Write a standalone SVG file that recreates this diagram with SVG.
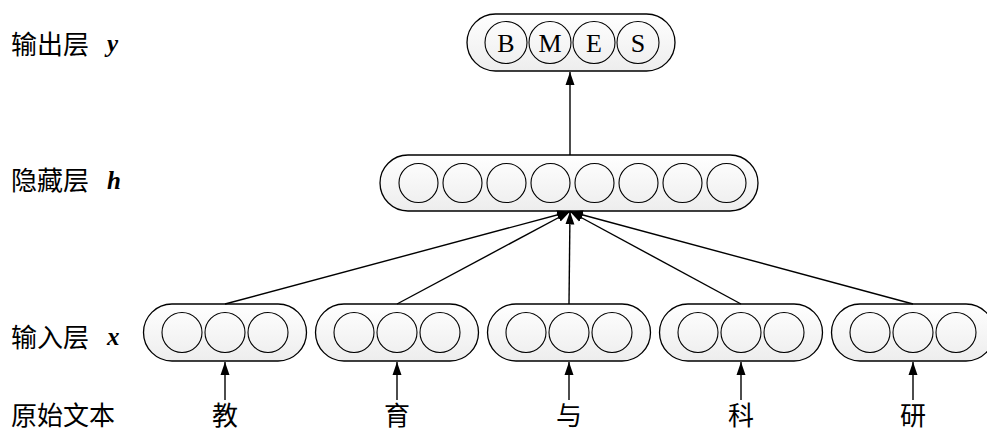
<svg xmlns="http://www.w3.org/2000/svg" width="987" height="433" viewBox="0 0 987 433">
<style>
.pill{fill:url(#g);stroke:#000;stroke-width:1.3}
.c{fill:none;stroke:#000;stroke-width:1.1}
.lbl{font-family:"Noto Sans CJK SC","Noto Sans CJK JP",sans-serif;font-size:26px;fill:#000}
.m{font-family:"Liberation Serif",serif;font-style:italic;font-weight:bold;font-size:25px;fill:#000}
.t{font-family:"Liberation Serif",serif;font-size:26px;fill:#000;text-anchor:middle}
.e{stroke:#000;stroke-width:1.4;fill:none;marker-end:url(#a)}
</style>
<defs>
<linearGradient id="g" x1="0" y1="0" x2="0" y2="1">
<stop offset="0" stop-color="#ffffff"/>
<stop offset="1" stop-color="#ededed"/>
</linearGradient>
<marker id="a" markerUnits="userSpaceOnUse" markerWidth="14" markerHeight="10" refX="13" refY="5" orient="auto">
<path d="M0,0.5 L13,5 L0,9.5 Z" fill="#000"/>
</marker>
</defs>
<g id="labels">
<text class="lbl" x="11" y="54">输出层</text><text class="m" x="107" y="52">y</text>
<text class="lbl" x="11" y="190">隐藏层</text><text class="m" x="107" y="189">h</text>
<text class="lbl" x="11" y="347">输入层</text><text class="m" x="107" y="345">x</text>
<text class="lbl" x="11" y="425">原始文本</text>
</g>
<g id="output">
<rect class="pill" x="467" y="14" width="208" height="57" rx="28.5"/>
<circle class="c" cx="506" cy="42.5" r="21"/><circle class="c" cx="550" cy="42.5" r="21"/><circle class="c" cx="594" cy="42.5" r="21"/><circle class="c" cx="638" cy="42.5" r="21"/>
<text class="t" x="506" y="52">B</text><text class="t" x="550" y="52">M</text><text class="t" x="594" y="52">E</text><text class="t" x="638" y="52">S</text>
</g>
<g id="hidden">
<rect class="pill" x="380" y="155" width="378" height="56" rx="28"/>
<circle class="c" cx="418.5" cy="183" r="19.5"/><circle class="c" cx="462.5" cy="183" r="19.5"/><circle class="c" cx="506.5" cy="183" r="19.5"/><circle class="c" cx="550.5" cy="183" r="19.5"/><circle class="c" cx="594.5" cy="183" r="19.5"/><circle class="c" cx="638.5" cy="183" r="19.5"/><circle class="c" cx="682.5" cy="183" r="19.5"/><circle class="c" cx="726.5" cy="183" r="19.5"/>
</g>
<g id="input1"><rect class="pill" x="143.5" y="304" width="163" height="57" rx="28.5"/><circle class="c" cx="182" cy="332.5" r="20"/><circle class="c" cx="225" cy="332.5" r="20"/><circle class="c" cx="268" cy="332.5" r="20"/></g>
<g id="input2"><rect class="pill" x="315.5" y="304" width="163" height="57" rx="28.5"/><circle class="c" cx="354" cy="332.5" r="20"/><circle class="c" cx="397" cy="332.5" r="20"/><circle class="c" cx="440" cy="332.5" r="20"/></g>
<g id="input3"><rect class="pill" x="487.5" y="304" width="163" height="57" rx="28.5"/><circle class="c" cx="526" cy="332.5" r="20"/><circle class="c" cx="569" cy="332.5" r="20"/><circle class="c" cx="612" cy="332.5" r="20"/></g>
<g id="input4"><rect class="pill" x="659.5" y="304" width="163" height="57" rx="28.5"/><circle class="c" cx="698" cy="332.5" r="20"/><circle class="c" cx="741" cy="332.5" r="20"/><circle class="c" cx="784" cy="332.5" r="20"/></g>
<g id="input5"><rect class="pill" x="831.5" y="304" width="163" height="57" rx="28.5"/><circle class="c" cx="870" cy="332.5" r="20"/><circle class="c" cx="913" cy="332.5" r="20"/><circle class="c" cx="956" cy="332.5" r="20"/></g>
<g id="words">
<text class="lbl" x="225" y="425" text-anchor="middle">教</text>
<text class="lbl" x="397" y="425" text-anchor="middle">育</text>
<text class="lbl" x="569" y="425" text-anchor="middle">与</text>
<text class="lbl" x="741" y="425" text-anchor="middle">科</text>
<text class="lbl" x="913" y="425" text-anchor="middle">研</text>
</g>
<g id="connectors">
<line class="e" x1="570" y1="155" x2="570" y2="72"/>
<line class="e" x1="225" y1="304" x2="570" y2="211.5"/>
<line class="e" x1="397" y1="304" x2="570" y2="211.5"/>
<line class="e" x1="569" y1="304" x2="570" y2="211.5"/>
<line class="e" x1="741" y1="304" x2="570" y2="211.5"/>
<line class="e" x1="913" y1="304" x2="570" y2="211.5"/>
<line class="e" x1="225" y1="400" x2="225" y2="362"/>
<line class="e" x1="397" y1="400" x2="397" y2="362"/>
<line class="e" x1="569" y1="400" x2="569" y2="362"/>
<line class="e" x1="741" y1="400" x2="741" y2="362"/>
<line class="e" x1="913" y1="400" x2="913" y2="362"/>
</g>
</svg>
